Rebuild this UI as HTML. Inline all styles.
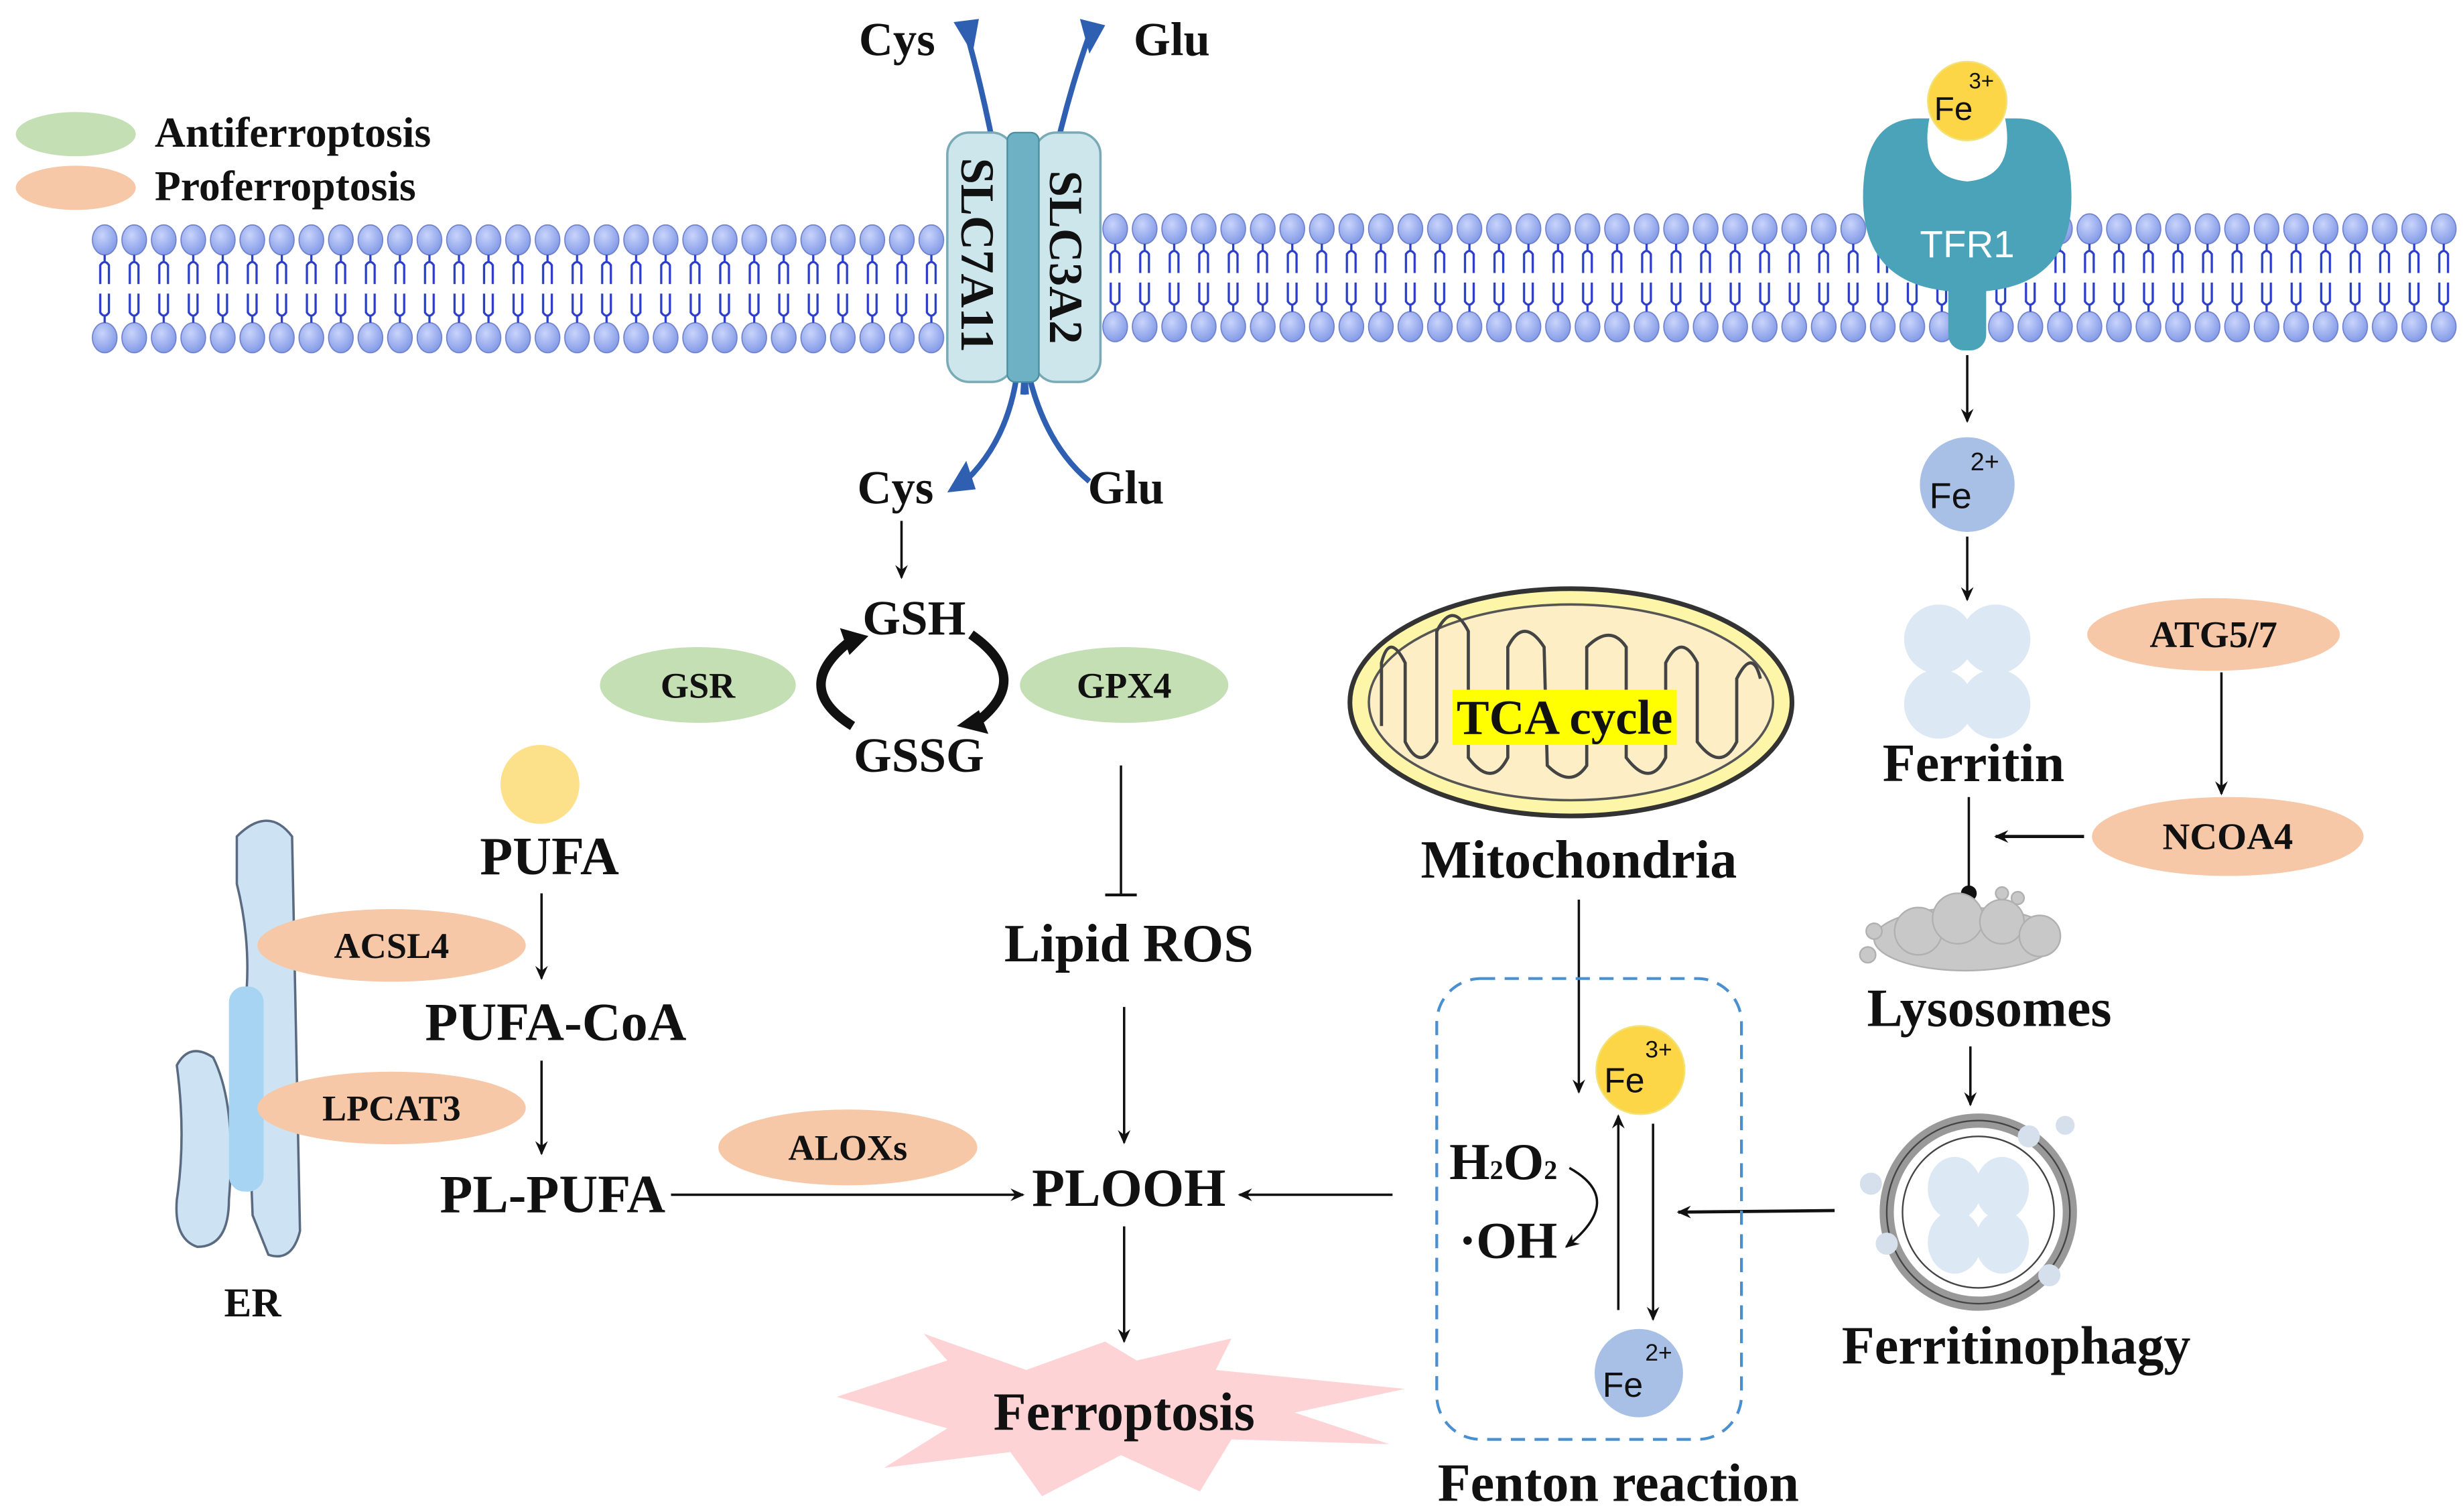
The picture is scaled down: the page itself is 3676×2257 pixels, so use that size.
<!DOCTYPE html>
<html><head><meta charset="utf-8"><style>
html,body{margin:0;padding:0;background:#fff;}
svg{display:block;}
text{font-family:"Liberation Serif",serif;font-weight:bold;fill:#111;}
.s{font-family:"Liberation Sans",sans-serif;font-weight:normal;}
</style></head><body>
<svg width="3676" height="2257" viewBox="0 0 1560 958" preserveAspectRatio="none" xmlns="http://www.w3.org/2000/svg">
<defs>
<marker id="a" markerWidth="10" markerHeight="10" refX="8" refY="5" orient="auto" markerUnits="userSpaceOnUse"><path d="M0,1 L9,5 L0,9 L3,5 Z" fill="#111"/></marker>
<radialGradient id="hd" cx="0.4" cy="0.35" r="0.7"><stop offset="0" stop-color="#c9d4fb"/><stop offset="1" stop-color="#7f97e6"/></radialGradient>
<pattern id="mem" x="0" y="0" width="18.7" height="82" patternUnits="userSpaceOnUse">
<ellipse cx="9.3" cy="10" rx="7.8" ry="9.5" fill="url(#hd)" stroke="#6d7fc8" stroke-width="0.7"/>
<ellipse cx="9.3" cy="72" rx="7.8" ry="9.5" fill="url(#hd)" stroke="#6d7fc8" stroke-width="0.7"/>
<path d="M9.3,19.5 L9.3,24 M6.5,38 L6.5,26 Q9.3,22 12,26 L12,38 M6.5,44 L6.5,56 Q9.3,60 12,56 L12,44 M9.3,58 L9.3,62.5" stroke="#2b3ec9" stroke-width="1.4" fill="none"/>
</pattern>
</defs>

<!-- legend -->
<ellipse cx="48" cy="85" rx="38" ry="14" fill="#c5dfb4"/>
<text x="98" y="93" font-size="27">Antiferroptosis</text>
<ellipse cx="48" cy="119" rx="38" ry="14" fill="#f6c8a8"/>
<text x="98" y="127" font-size="27">Proferroptosis</text>

<!-- membrane -->
<g transform="translate(57,142)"><rect x="0" y="0" width="543" height="82" fill="url(#mem)"/></g>
<g transform="translate(697,135)"><rect x="0" y="0" width="861" height="82" fill="url(#mem)"/></g>

<!-- transporter arrows -->
<path d="M650,250 Q640,120 612,20" stroke="#2f5fb0" stroke-width="3.5" fill="none"/>
<path d="M604,14 L620,12 L616,34 Z" fill="#2f5fb0"/>
<path d="M648,250 Q655,120 690,22" stroke="#2f5fb0" stroke-width="3.5" fill="none"/>
<path d="M684,12 L700,16 L690,34 Z" fill="#2f5fb0"/>
<path d="M645,230 Q640,280 608,308" stroke="#2f5fb0" stroke-width="3.5" fill="none"/>
<path d="M600,312 L612,292 L618,310 Z" fill="#2f5fb0"/>
<path d="M650,230 Q660,280 690,305" stroke="#2f5fb0" stroke-width="3.5" fill="none"/>
<text x="544" y="35" font-size="30">Cys</text>
<text x="718" y="35" font-size="30">Glu</text>
<text x="543" y="319" font-size="30">Cys</text>
<text x="689" y="319" font-size="30">Glu</text>
<!-- transporter -->
<rect x="600" y="84" width="42" height="158" rx="14" fill="#cde6ec" stroke="#7aaab8" stroke-width="1.5"/>
<rect x="655" y="84" width="42" height="158" rx="14" fill="#cde6ec" stroke="#7aaab8" stroke-width="1.5"/>
<rect x="638" y="84" width="20" height="158" rx="5" fill="#6fb1c4" stroke="#4b8fa3"/>
<text transform="translate(609,100) rotate(90)" font-size="30">SLC7A11</text>
<text transform="translate(665,108) rotate(90)" font-size="30">SLC3A2</text>

<!-- TFR1 -->
<rect x="1234" y="170" width="24" height="52" rx="10" fill="#4aa3b8"/>
<path d="M1180,125 Q1180,75 1215,75 L1222,75 Q1215,112 1246,115 Q1277,112 1270,75 L1277,75 Q1312,75 1312,125 Q1312,185 1246,185 Q1180,185 1180,125 Z" fill="#4aa3b8"/>
<text class="s" x="1246" y="163" font-size="24" text-anchor="middle" style="fill:#fff">TFR1</text>
<circle cx="1246" cy="64" r="25" fill="#fcd647" stroke="#f2e27a"/>
<text class="s" x="1225" y="76" font-size="21">Fe</text><text class="s" x="1247" y="56" font-size="14">3+</text>

<line x1="1246" y1="225" x2="1246" y2="267" stroke="#111" stroke-width="1.5" marker-end="url(#a)"/>
<circle cx="1246" cy="307" r="30" fill="#a9c0e6"/>
<text class="s" x="1222" y="322" font-size="23">Fe</text><text class="s" x="1248" y="298" font-size="16">2+</text>
<line x1="1246" y1="340" x2="1246" y2="380" stroke="#111" stroke-width="1.5" marker-end="url(#a)"/>
<!-- ferritin -->
<g fill="#dde8f5">
<ellipse cx="1228" cy="405" rx="22" ry="22"/><ellipse cx="1264" cy="405" rx="22" ry="22"/>
<ellipse cx="1228" cy="446" rx="22" ry="22"/><ellipse cx="1264" cy="446" rx="22" ry="22"/></g>
<text x="1250" y="495" font-size="34" text-anchor="middle">Ferritin</text>

<ellipse cx="1402" cy="402" rx="80" ry="23" fill="#f6c8a8"/>
<text x="1402" y="410" font-size="24" text-anchor="middle">ATG5/7</text>
<line x1="1407" y1="426" x2="1407" y2="503" stroke="#111" stroke-width="1.5" marker-end="url(#a)"/>
<ellipse cx="1411" cy="530" rx="86" ry="25" fill="#f6c8a8"/>
<text x="1411" y="538" font-size="24" text-anchor="middle">NCOA4</text>
<line x1="1320" y1="530" x2="1264" y2="530" stroke="#111" stroke-width="2" marker-end="url(#a)"/>
<line x1="1247" y1="505" x2="1247" y2="563" stroke="#111" stroke-width="1.5"/>
<circle cx="1247" cy="566" r="5" fill="#111"/>
<!-- lysosome cloud -->
<g fill="#c8c8c8" stroke="#b0b0b0">
<ellipse cx="1245" cy="595" rx="58" ry="20"/><circle cx="1215" cy="590" r="15"/><circle cx="1240" cy="582" r="16"/><circle cx="1268" cy="584" r="14"/><circle cx="1292" cy="593" r="13"/>
<circle cx="1183" cy="605" r="5"/><circle cx="1187" cy="590" r="5"/><circle cx="1268" cy="566" r="4"/><circle cx="1278" cy="569" r="4"/></g>
<text x="1260" y="650" font-size="34" text-anchor="middle">Lysosomes</text>
<line x1="1248" y1="663" x2="1248" y2="700" stroke="#111" stroke-width="1.5" marker-end="url(#a)"/>
<!-- ferritinophagy -->
<circle cx="1253" cy="768" r="58" fill="none" stroke="#999" stroke-width="9"/>
<circle cx="1253" cy="768" r="58" fill="none" stroke="#444" stroke-width="1"/>
<circle cx="1253" cy="768" r="48" fill="none" stroke="#444" stroke-width="1"/>
<g fill="#dde8f5"><ellipse cx="1238" cy="753" rx="17" ry="20"/><ellipse cx="1268" cy="753" rx="17" ry="20"/><ellipse cx="1238" cy="787" rx="17" ry="20"/><ellipse cx="1268" cy="787" rx="17" ry="20"/></g>
<g fill="#d6e0ec"><circle cx="1185" cy="750" r="7"/><circle cx="1195" cy="788" r="7"/><circle cx="1285" cy="720" r="7"/><circle cx="1308" cy="713" r="6"/><circle cx="1298" cy="808" r="7"/></g>
<text x="1277" y="864" font-size="34" text-anchor="middle">Ferritinophagy</text>
<line x1="1162" y1="767" x2="1063" y2="768" stroke="#111" stroke-width="2" marker-end="url(#a)"/>

<!-- mitochondria -->
<ellipse cx="995" cy="445" rx="140" ry="72" fill="#fdf6a8" stroke="#333" stroke-width="3"/>
<ellipse cx="995" cy="445" rx="128" ry="62" fill="#fdeec6" stroke="#555" stroke-width="1.5"/>
<path d="M875,460 L875,420 Q880,400 890,420 L890,470 Q900,490 910,470 L910,400 Q920,380 930,400 L930,480 Q945,500 955,480 L955,410 Q965,390 978,410 L980,485 Q995,500 1005,485 L1005,410 Q1020,395 1030,410 L1030,480 Q1045,500 1055,480 L1055,420 Q1065,400 1075,420 L1075,470 Q1090,490 1100,470 L1100,430 Q1110,410 1115,430" fill="none" stroke="#444" stroke-width="2"/>
<rect x="920" y="437" width="142" height="35" fill="#ffff00"/>
<text x="991" y="465" font-size="31" text-anchor="middle">TCA cycle</text>
<text x="1000" y="556" font-size="34" text-anchor="middle">Mitochondria</text>
<line x1="1000" y1="570" x2="1000" y2="692" stroke="#111" stroke-width="1.5" marker-end="url(#a)"/>

<!-- Fenton -->
<rect x="910" y="620" width="193" height="292" rx="28" fill="none" stroke="#4a8fd0" stroke-width="1.8" stroke-dasharray="9,6"/>
<circle cx="1039" cy="678" r="28" fill="#fcd647" stroke="#f2e27a"/>
<text class="s" x="1016" y="692" font-size="22">Fe</text><text class="s" x="1042" y="670" font-size="15">3+</text>
<circle cx="1038" cy="870" r="28" fill="#a9c0e6"/>
<text class="s" x="1015" y="885" font-size="22">Fe</text><text class="s" x="1042" y="862" font-size="15">2+</text>
<line x1="1025" y1="830" x2="1025" y2="707" stroke="#111" stroke-width="1.5" marker-end="url(#a)"/>
<line x1="1047" y1="712" x2="1047" y2="836" stroke="#111" stroke-width="1.5" marker-end="url(#a)"/>
<text x="918" y="747" font-size="33">H<tspan font-size="17">2</tspan>O<tspan font-size="17">2</tspan></text>
<text x="924" y="797" font-size="33">·OH</text>
<path d="M994,740 Q1030,760 992,790" fill="none" stroke="#111" stroke-width="1.5" marker-end="url(#a)"/>
<text x="1025" y="951" font-size="34" text-anchor="middle">Fenton reaction</text>
<line x1="882" y1="757" x2="785" y2="757" stroke="#111" stroke-width="1.5" marker-end="url(#a)"/>

<!-- GSH cycle -->
<line x1="571" y1="330" x2="571" y2="366" stroke="#111" stroke-width="1.5" marker-end="url(#a)"/>
<text x="579" y="402" font-size="31" text-anchor="middle">GSH</text>
<text x="582" y="489" font-size="31" text-anchor="middle">GSSG</text>
<path d="M540,460 Q500,435 540,405" fill="none" stroke="#111" stroke-width="6"/>
<path d="M532,398 L550,403 L538,415 Z" fill="#111"/>
<path d="M615,402 Q655,430 618,458" fill="none" stroke="#111" stroke-width="6"/>
<path d="M626,465 L606,460 L620,450 Z" fill="#111"/>
<ellipse cx="442" cy="434" rx="62" ry="24" fill="#c5dfb4"/>
<text x="442" y="442" font-size="23" text-anchor="middle">GSR</text>
<ellipse cx="712" cy="434" rx="66" ry="24" fill="#c5dfb4"/>
<text x="712" y="442" font-size="23" text-anchor="middle">GPX4</text>
<line x1="710" y1="485" x2="710" y2="567" stroke="#111" stroke-width="1.5"/>
<line x1="700" y1="567" x2="720" y2="567" stroke="#111" stroke-width="1.8"/>
<text x="715" y="609" font-size="34" text-anchor="middle">Lipid ROS</text>
<line x1="712" y1="638" x2="712" y2="724" stroke="#111" stroke-width="1.5" marker-end="url(#a)"/>
<text x="715" y="764" font-size="34" text-anchor="middle">PLOOH</text>
<line x1="712" y1="777" x2="712" y2="850" stroke="#111" stroke-width="1.5" marker-end="url(#a)"/>
<!-- ferroptosis star -->
<polygon points="530,885 600,862 585,845 650,868 700,850 720,862 780,848 770,868 890,880 820,895 880,915 780,912 760,945 710,922 660,948 640,920 560,930 600,905" fill="#fdd3d6"/>
<text x="712" y="906" font-size="34" text-anchor="middle">Ferroptosis</text>
<ellipse cx="537" cy="727" rx="82" ry="24" fill="#f6c8a8"/>
<text x="537" y="735" font-size="23" text-anchor="middle">ALOXs</text>

<!-- ER -->
<path d="M150,530 Q170,510 185,530 L190,780 Q185,800 170,795 L160,770 L155,640 Q160,600 150,560 Z" fill="#cde3f4" stroke="#5a6a80" stroke-width="1.5"/>
<path d="M112,675 Q120,660 135,670 Q150,700 145,760 Q145,790 125,790 Q110,785 112,760 Q118,720 112,675 Z" fill="#cde3f4" stroke="#5a6a80" stroke-width="1.5"/>
<rect x="145" y="625" width="22" height="130" rx="10" fill="#a8d4f4"/>
<text x="160" y="834" font-size="26" text-anchor="middle">ER</text>

<!-- PUFA chain -->
<circle cx="342" cy="497" r="25" fill="#fde08a"/>
<text x="348" y="554" font-size="34" text-anchor="middle">PUFA</text>
<line x1="343" y1="566" x2="343" y2="620" stroke="#111" stroke-width="1.5" marker-end="url(#a)"/>
<ellipse cx="248" cy="599" rx="85" ry="23" fill="#f6c8a8"/>
<text x="248" y="607" font-size="23" text-anchor="middle">ACSL4</text>
<text x="352" y="659" font-size="34" text-anchor="middle">PUFA-CoA</text>
<line x1="343" y1="672" x2="343" y2="731" stroke="#111" stroke-width="1.5" marker-end="url(#a)"/>
<ellipse cx="248" cy="702" rx="85" ry="23" fill="#f6c8a8"/>
<text x="248" y="710" font-size="23" text-anchor="middle">LPCAT3</text>
<text x="350" y="768" font-size="34" text-anchor="middle">PL-PUFA</text>
<line x1="425" y1="757" x2="648" y2="757" stroke="#111" stroke-width="1.5" marker-end="url(#a)"/>
</svg>
</body></html>
